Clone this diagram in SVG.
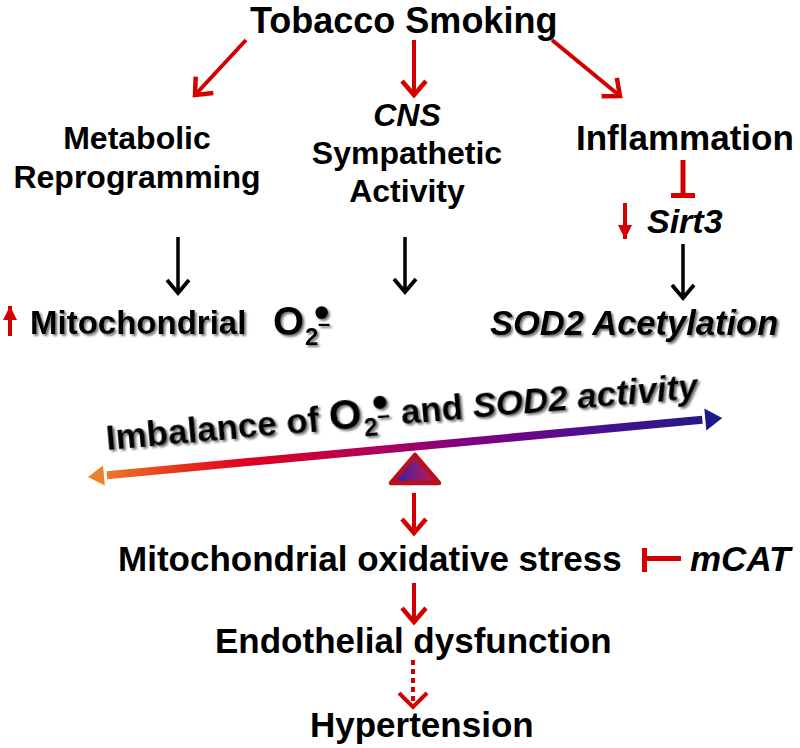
<svg xmlns="http://www.w3.org/2000/svg" width="800" height="748" viewBox="0 0 800 748">
<defs>
<style>
text{font-family:"Liberation Sans",Arial,Helvetica,sans-serif;font-weight:bold;fill:#000}
.c{text-anchor:middle}
.i{font-style:italic}
.rs{stroke:#d40000;stroke-width:4;fill:none}
.bs{stroke:#000;stroke-width:3.5;fill:none}
.sh{filter:url(#shadow)}
.rf{fill:#d40000}
</style>
<filter id="shadow" x="-10%" y="-40%" width="120%" height="180%">
<feDropShadow dx="2" dy="2" stdDeviation="1.2" flood-color="#555" flood-opacity="0.8"/>
</filter>
<marker id="rv" markerUnits="userSpaceOnUse" viewBox="-20 -20 40 40" markerWidth="40" markerHeight="40" refX="0" refY="0" orient="auto" overflow="visible">
<path d="M-14,-12 L0,0 L-14,12" stroke="#d40000" stroke-width="4.5" fill="none"/>
</marker>
<marker id="bv" markerUnits="userSpaceOnUse" viewBox="-20 -20 40 40" markerWidth="40" markerHeight="40" refX="0" refY="0" orient="auto" overflow="visible">
<path d="M-13,-11 L0,0 L-13,11" stroke="#000" stroke-width="3.8" fill="none"/>
</marker>
<marker id="rt" markerUnits="userSpaceOnUse" viewBox="-20 -20 40 40" markerWidth="40" markerHeight="40" refX="0" refY="0" orient="auto" overflow="visible">
<path d="M-14,-7 L0,0 L-14,7 Z" fill="#d40000"/>
</marker>
<linearGradient id="bg" gradientUnits="userSpaceOnUse" x1="0" y1="0" x2="637" y2="0">
<stop offset="0" stop-color="#ee8a2a"/>
<stop offset="0.12" stop-color="#e8401e"/>
<stop offset="0.25" stop-color="#e0001e"/>
<stop offset="0.45" stop-color="#b0005a"/>
<stop offset="0.6" stop-color="#800080"/>
<stop offset="0.8" stop-color="#4a1090"/>
<stop offset="1" stop-color="#1e1a86"/>
</linearGradient>
<linearGradient id="tg" x1="0" y1="0" x2="1" y2="0">
<stop offset="0.2" stop-color="#4b1fa0"/>
<stop offset="1" stop-color="#d01840"/>
</linearGradient>
</defs>
<rect width="800" height="748" fill="#fff"/>

<g id="connectors">
<line class="rs" x1="246" y1="40" x2="195" y2="95" marker-end="url(#rv)"/>
<line class="rs" x1="414" y1="40" x2="414" y2="95" marker-end="url(#rv)"/>
<line class="rs" x1="552" y1="40" x2="620" y2="96" marker-end="url(#rv)"/>
<line class="bs" x1="178" y1="237" x2="178" y2="293" marker-end="url(#bv)"/>
<line class="bs" x1="405" y1="237" x2="405" y2="292" marker-end="url(#bv)"/>
<line class="bs" x1="683" y1="244" x2="683" y2="298" marker-end="url(#bv)"/>
<g id="inhibit-sirt3" class="rf">
<rect x="680.5" y="160" width="5" height="35"/>
<rect x="671" y="193" width="24" height="5"/>
</g>
<line class="rs" stroke-width="3.5" x1="625" y1="203" x2="625" y2="239" marker-end="url(#rt)"/>
<line class="rs" stroke-width="3.5" x1="10" y1="336" x2="10" y2="306" marker-end="url(#rt)"/>
<line class="rs" x1="414" y1="493" x2="414" y2="533" marker-end="url(#rv)"/>
<g id="inhibit-mcat" class="rf">
<rect x="642" y="548" width="5" height="24"/>
<rect x="647" y="556" width="34" height="5"/>
</g>
<line class="rs" x1="414" y1="583" x2="414" y2="622" marker-end="url(#rv)"/>
<line class="rs" stroke-dasharray="5,4" x1="413" y1="660" x2="413" y2="705"/>
<path d="M399,693 L413,707 L427,693" class="rs" stroke-width="4.5"/>
</g>

<g id="tobacco"><text x="250" y="33" font-size="36">Tobacco Smoking</text></g>
<g id="metabolic"><text class="c" x="137" y="149" font-size="32">Metabolic</text><text class="c" x="137" y="188" font-size="32">Reprogramming</text></g>
<g id="cns"><text class="c i" x="407" y="126" font-size="32">CNS</text><text class="c" x="407" y="164" font-size="32">Sympathetic</text><text class="c" x="407" y="202" font-size="32">Activity</text></g>
<g id="inflammation"><text x="576" y="150" font-size="35">Inflammation</text></g>
<g id="sirt3"><text class="i" x="647" y="233" font-size="34">Sirt3</text></g>
<g id="mito-o2" class="sh">
<text x="30" y="334" font-size="33">Mitochondrial</text>
<text x="273" y="335" font-size="40">O<tspan x="305" y="345" font-size="24">2</tspan><tspan x="314" y="327" font-size="44">•</tspan><tspan x="318" y="331" font-size="22">–</tspan></text>
</g>
<g id="sod2"><text class="i sh" x="490" y="335" font-size="34.5">SOD2 Acetylation</text></g>

<g id="balance">
<g transform="translate(88,477) rotate(-5.32)">
<rect x="19" y="-4" width="598" height="8" fill="url(#bg)"/>
<polygon points="0,0 16,-10 16,10" fill="#ec7f28"/>
<polygon points="637,0 620,-11 620,11" fill="#1c1a88"/>
</g>
<polygon points="415,455 391,483 439,483" fill="url(#tg)" stroke="#b8101c" stroke-width="4.5" stroke-linejoin="round"/>
</g>
<g id="imbalance" class="sh" transform="translate(107,450) rotate(-5)">
<text x="0" y="0" font-size="35">Imbalance of <tspan x="224" y="0" font-size="42">O</tspan><tspan x="258" y="9" font-size="25">2</tspan><tspan x="268" y="-8" font-size="46">•</tspan><tspan x="272" y="-3" font-size="23">–</tspan><tspan x="296" y="0">and </tspan><tspan x="368" y="0" font-style="italic">SOD2 activity</tspan></text>
</g>

<g id="oxstress"><text x="118" y="571" font-size="35">Mitochondrial oxidative stress</text></g>
<g id="mcat"><text class="i" x="690" y="571" font-size="35">mCAT</text></g>
<g id="endothelial"><text x="215" y="653" font-size="35">Endothelial dysfunction</text></g>
<g id="hypertension"><text x="310" y="737" font-size="35">Hypertension</text></g>
</svg>
